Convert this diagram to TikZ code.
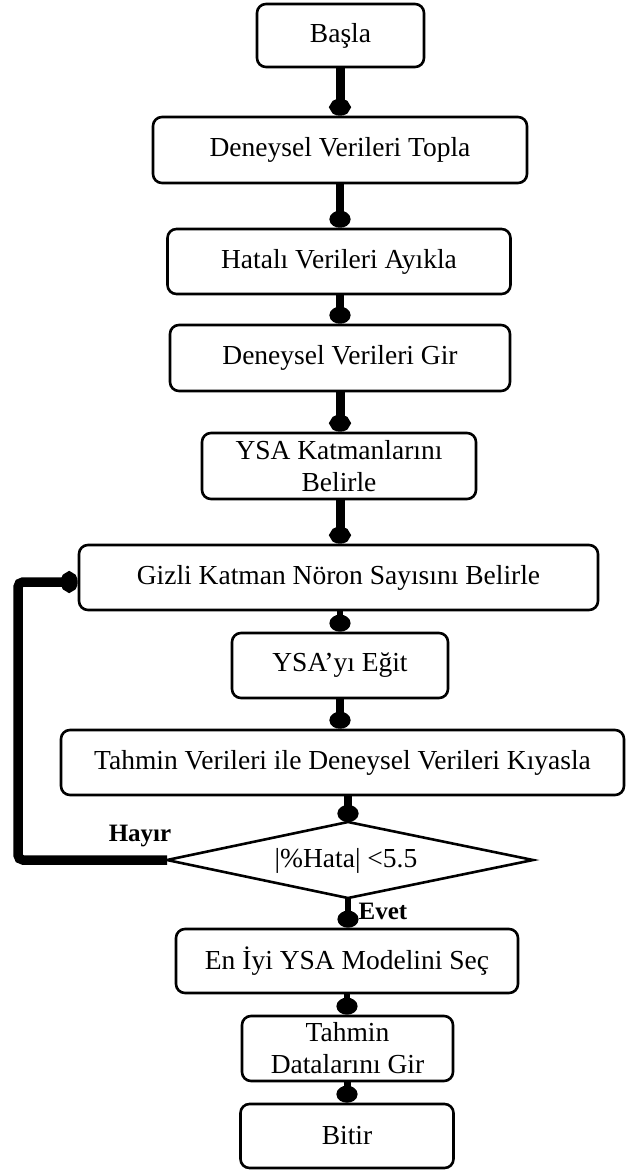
\documentclass[tikz,border=0pt]{standalone}
\usepackage{fontspec}
\setmainfont{Liberation Serif}
\usetikzlibrary{arrows.meta}
\begin{document}
\begin{tikzpicture}[x=1pt,y=-1pt,
  box/.style={draw,line width=2.6pt,rounded corners=9pt,inner sep=0pt,align=center,
    font=\fontsize{27.5}{32}\selectfont},
  label text/.style={inner sep=0pt,align=center,font=\fontsize{27.5}{32}\selectfont},
  outline/.style={line width=2.6pt,line join=miter},
  answer/.style={inner sep=0pt,font=\fontsize{25}{28}\selectfont\bfseries},
  conn/.style={line width=#1,-{Circle[length=17pt,width=21pt]}},
  conn/.default=8pt,
  stub/.style={line width=2pt},
  feedback/.style={line width=9.5pt,rounded corners=5pt,-{Circle[length=17pt,width=21pt]}}]
\useasboundingbox (0,0) rectangle (625,1171);

% process steps
\node[box,minimum width=167pt,minimum height=63pt] (start) at (340.5,35.5) {Başla};
\node[box,minimum width=374pt,minimum height=66pt] (collect) at (340,150) {Deneysel Verileri Topla};
\node[box,minimum width=343pt,minimum height=65pt] (clean) at (339,261.5) {Hatalı Verileri Ayıkla};
\node[box,minimum width=340pt,minimum height=66pt] (input) at (340,358) {Deneysel Verileri Gir};
\node[box,minimum width=274pt,minimum height=66pt] (layers) at (339,466) {YSA Katmanlarını\\Belirle};
\node[box,minimum width=519pt,minimum height=65pt] (neurons) at (338.5,577.5) {Gizli Katman Nöron Sayısını Belirle};
\node[box,minimum width=216pt,minimum height=65pt] (train) at (340,665.5) {YSA’yı Eğit};
\node[box,minimum width=563pt,minimum height=65pt] (compare) at (342.5,762.5) {Tahmin Verileri ile Deneysel Verileri Kıyasla};

% decision diamond
\coordinate (dec-n) at (348,822);
\coordinate (dec-s) at (348,898);
\coordinate (dec-w) at (167,860);
\coordinate (dec-e) at (533,860);
\draw[outline] (dec-n) -- (dec-e) -- (dec-s) -- (dec-w) -- cycle;
\node[label text] (dec) at (346,861) {|\%Hata| <5.5};

\node[box,minimum width=342pt,minimum height=64pt] (best) at (347,961) {En İyi YSA Modelini Seç};
\node[box,minimum width=211pt,minimum height=65pt] (predict) at (347.5,1048.5) {Tahmin\\Datalarını Gir};
\node[box,minimum width=213pt,minimum height=64pt] (finish) at (347,1136) {Bitir};

% branch labels
\node[answer] (no) at (140,836) {Hayır};
\node[answer] (yes) at (383,911) {Evet};

% main flow
\draw[conn=9pt] (start.south -| 340,0) -- (collect.north -| 340,0);
\draw[conn] (collect.south -| 340,0) -- (clean.north -| 340,0);
\draw[conn] (clean.south -| 340,0) -- (input.north -| 340,0);
\draw[conn=9pt] (input.south -| 340,0) -- (layers.north -| 340,0);
\draw[conn=9pt] (layers.south -| 340,0) -- (neurons.north -| 340,0);
\draw[conn=6pt] (neurons.south -| 340,0) -- (train.north -| 340,0);
\draw[conn] (train.south -| 340,0) -- (compare.north -| 340,0);
\coordinate (tick) at ([yshift=-10pt]compare.south -| dec-n);
\draw[stub] (tick) -- (compare.south -| dec-n);
\draw[conn] (compare.south -| dec-n) -- (dec-n);
\draw[conn=6pt] (dec-s) -- (dec-s |- best.north);
\draw[conn=6pt] (best.south -| 347,0) -- (predict.north -| 347,0);
\draw[conn=7pt] (predict.south -| 347,0) -- (finish.north -| 347,0);

% loop back when the error is too large
\coordinate (low) at (18,860);
\coordinate (high) at (18,582);
\draw[feedback] (dec-w) -- (low) -- (high) -- (high -| neurons.west);
\end{tikzpicture}
\end{document}
